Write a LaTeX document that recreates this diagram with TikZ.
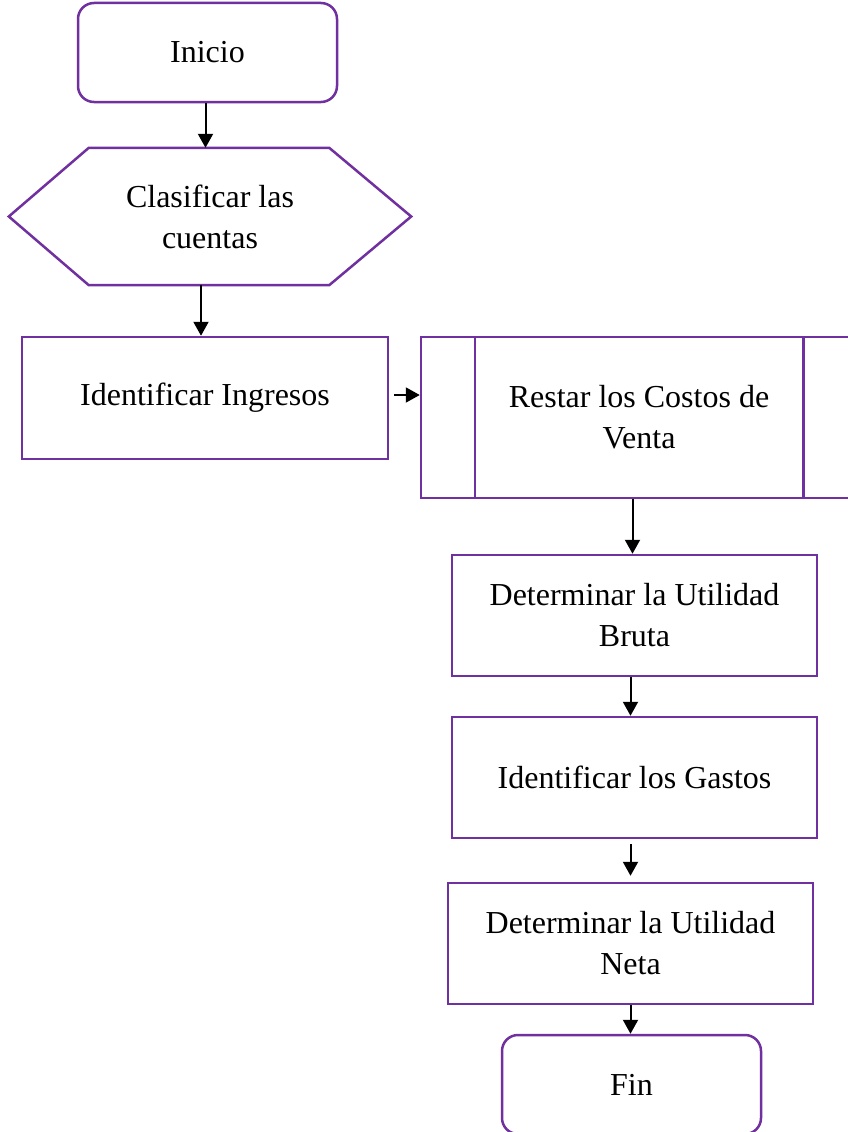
\documentclass[tikz,border=0pt]{standalone}
\usepackage{fontspec}
\setmainfont{Liberation Serif}
\usetikzlibrary{arrows.meta}
\definecolor{morado}{HTML}{7030A0}
\tikzset{
	texto/.style={align=center, font=\fontsize{32}{41}\selectfont, inner sep=0pt},
	caja/.style={texto, draw=morado, line width=2.5pt, minimum width=365pt, minimum height=121pt},
	redonda/.style={texto, draw=morado, line width=2.5pt, rounded corners=16pt, minimum width=259pt, minimum height=99pt},
	flecha/.style={line width=2pt, -{Triangle[length=14pt,width=15pt]}}
}
\begin{document}
\begin{tikzpicture}[x=1pt, y=-1pt]
		% Marco
		\useasboundingbox (0,0) rectangle (848,1132);
		\clip (0,0) rectangle (848,1132);
		
		% Nodos
		\node[redonda] (inicio) at (207.5,52.5) {Inicio};
		\node[texto, minimum width=402pt, minimum height=137pt] (clasificar) at (210,216.5) {Clasificar las\\cuentas};
		\node[caja, minimum width=366pt, minimum height=122pt] (ingresos) at (205,398) {Identificar Ingresos};
		\node[caja, minimum width=436pt, minimum height=161pt] (restar) at (639,417.5) {Restar los Costos de\\Venta};
		\node[caja] (bruta) at (634.5,615.5) {Determinar la Utilidad\\Bruta};
		\node[caja] (gastos) at (634.5,777.5) {Identificar los Gastos};
		\node[caja] (neta) at (630.5,943.5) {Determinar la Utilidad\\Neta};
		\node[redonda] (fin) at (631.5,1084.5) {Fin};
		
		% Hexagono
		\draw[morado, line width=2.5pt] (clasificar.west) -- ([xshift=80pt]clasificar.north west) -- ([xshift=-82pt]clasificar.north east)
		-- (clasificar.east) -- ([xshift=-82pt]clasificar.south east) -- ([xshift=80pt]clasificar.south west) -- cycle;
		
		% Proceso predefinido
		\draw[morado, line width=2.5pt] ([xshift=55pt]restar.north west) -- ([xshift=55pt]restar.south west);
		\draw[morado, line width=2.5pt] ([xshift=-55pt]restar.north east) -- ([xshift=-55pt]restar.south east);
		
		% Flechas
		\draw[flecha] ([xshift=-2pt]inicio.south) -- ([xshift=-2pt]inicio.south |- clasificar.north);
		\draw[flecha] ([xshift=-9pt]clasificar.south) -- ([xshift=-9pt]clasificar.south |- ingresos.north);
		\draw[flecha] ([xshift=5pt,yshift=3pt]ingresos.east) -- ([yshift=3pt]restar.west |- ingresos.east);
		\draw[flecha] ([xshift=-2pt]bruta.north |- restar.south) -- ([xshift=-2pt]bruta.north);
		\draw[flecha] ([xshift=-4pt]bruta.south) -- ([xshift=-4pt]gastos.north);
		\draw[flecha] ([xshift=-4pt,yshift=-5pt]gastos.south) -- ([xshift=-4pt,yshift=6pt]gastos.south |- neta.north);
		\draw[flecha] (neta.south) -- (neta.south |- fin.north);
\end{tikzpicture}
\end{document}
